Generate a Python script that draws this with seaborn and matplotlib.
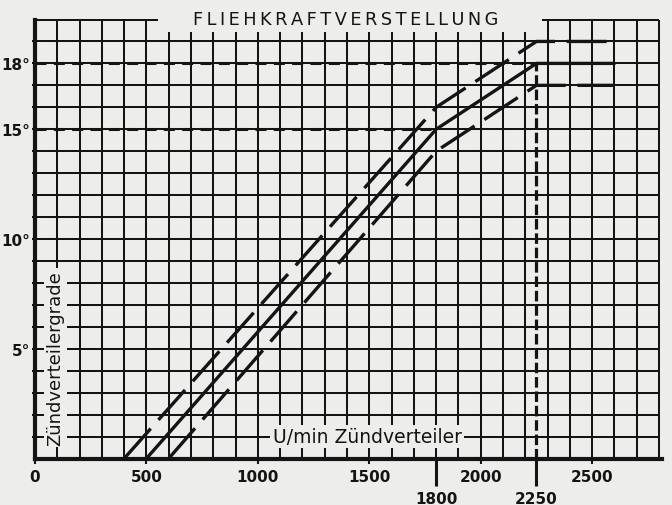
import matplotlib
matplotlib.use("Agg")
import matplotlib.pyplot as plt
import seaborn as sns

# Fliehkraftverstellung: Sollkurve mit oberer und unterer Toleranzgrenze
rpm_upper = [400, 1800, 2250, 2600]
deg_upper = [0, 16, 19, 19]
rpm_nominal = [500, 1800, 2250, 2600]
deg_nominal = [0, 15, 18, 18]
rpm_lower = [600, 1800, 2250, 2600]
deg_lower = [0, 14, 17, 17]

x_ticks = [0, 500, 1000, 1500, 2000, 2500]
x_marks = [1800, 2250]
y_ticks = [5, 10, 15, 18]

title = "FLIEHKRAFTVERSTELLUNG"
x_label = "U/min Zündverteiler"
y_label = "Zündverteilergrade"

PAPER = "#ededeb"
INK = "#141414"

sns.set_theme(style="white", rc={"axes.facecolor": PAPER, "figure.facecolor": PAPER})
plt.rcParams["font.family"] = ["DejaVu Sans"]

fig = plt.figure(figsize=(6.72, 5.06), dpi=100, facecolor=PAPER)
ax = fig.add_axes([35 / 672, 46.5 / 506, 624 / 672, 439 / 506])
ax.set_facecolor(PAPER)
ax.set_xlim(0, 2800)
ax.set_ylim(0, 20)
for s in ax.spines.values():
    s.set_visible(False)

# Millimeterraster: 100 U/min x 1 Grad
grid_kw = dict(color=INK, linewidth=1.45, clip_on=False, zorder=1)
ax.hlines(range(1, 20), 0, 2800, **grid_kw)
for x in range(100, 2800, 100):
    top = 20 if (x <= 500 or x >= 2300) else 19.45
    ax.vlines(x, 0, top, **grid_kw)
ax.vlines(2800, 0, 20, **grid_kw)
ax.hlines(20, 0, 550, **grid_kw)
ax.hlines(20, 2275, 2800, **grid_kw)

# Achsen
ax.vlines(0, 0, 20, color=INK, linewidth=3, clip_on=False, zorder=3,
          capstyle="projecting")
ax.hlines(0, 0, 2815, color=INK, linewidth=3, clip_on=False, zorder=3,
          capstyle="projecting")

# Bezugslinien bei 15 und 18 Grad bzw. 2250 U/min
ax.hlines(15, 0, 1800, color=INK, linewidth=2.2, linestyle=(0, (3.6, 2.4)),
          clip_on=False, zorder=2)
ax.hlines(18, 0, 2250, color=INK, linewidth=2.2, linestyle=(0, (3.6, 2.4)),
          clip_on=False, zorder=2)
ax.vlines(2250, 0, 18, color=INK, linewidth=2.3, linestyle=(0, (3.3, 1.2)),
          clip_on=False, zorder=2)

# Kennlinien
curve_kw = dict(color=INK, linewidth=2.4, ax=ax, legend=False, clip_on=False,
                zorder=5)
sns.lineplot(x=rpm_upper, y=deg_upper, linestyle=(0, (12, 3.5)), **curve_kw)
sns.lineplot(x=rpm_nominal, y=deg_nominal, **curve_kw)
sns.lineplot(x=rpm_lower, y=deg_lower, linestyle=(0, (12, 3.5)), **curve_kw)
ax.set_xlabel("")
ax.set_ylabel("")

# Teilung
ax.set_xticks(x_ticks, [str(v) for v in x_ticks])
ax.set_xticks(x_marks, [str(v) for v in x_marks], minor=True)
ax.set_yticks(y_ticks, [f"{v}°" for v in y_ticks])
ax.set_yticks([v for v in range(1, 20) if v not in y_ticks], minor=True)
ax.tick_params(axis="x", which="major", bottom=True, length=3.6, width=1.5,
               pad=4, labelsize=11, colors=INK, direction="out")
ax.tick_params(axis="x", which="minor", bottom=True, length=19.5, width=2.2,
               pad=4, labelsize=11, colors=INK, direction="out")
ax.tick_params(axis="y", which="major", left=True, length=2.5, width=1.5,
               pad=1, labelsize=11, colors=INK, direction="out")
ax.tick_params(axis="y", which="minor", left=True, length=2, width=1.5,
               colors=INK, direction="out")
for lab in ax.get_xticklabels(which="both") + ax.get_yticklabels():
    lab.set_fontweight("bold")

# Beschriftungen
box = dict(boxstyle="square,pad=0.12", fc=PAPER, ec="none")
ax.text(1393, 20.0, "\u2009".join(title), ha="center", va="center",
        fontsize=12.8, color=INK, zorder=6,
        bbox=dict(boxstyle="square,pad=0.2", fc=PAPER, ec="none"))
ax.text(1490, 1.0, x_label, ha="center", va="center", fontsize=13.5,
        color=INK, zorder=4, bbox=box)
ax.text(92, 4.6, y_label, rotation=90, ha="center", va="center",
        fontsize=13, color=INK, zorder=4, bbox=box)

fig.savefig("out.png", dpi=100, facecolor=PAPER)
